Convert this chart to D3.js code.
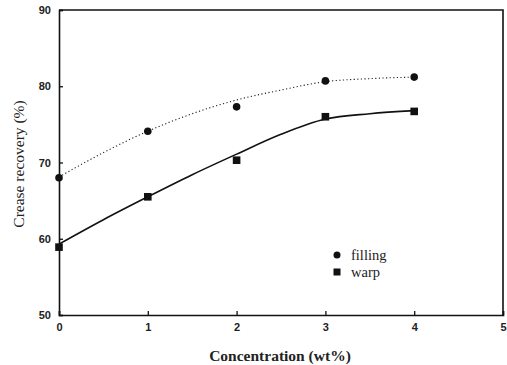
<!DOCTYPE html>
<html>
<head>
<meta charset="utf-8">
<script src="https://cdn.jsdelivr.net/npm/d3@7"></script>
<style>
  body { margin: 0; background: #fff; }
  svg { display: block; }
</style>
</head>
<body>
<svg id="chart" width="507" height="365"></svg>
<script>
// measured points
let concentration = [0, 1, 2, 3, 4]
let filling = [68.0, 74.1, 77.3, 80.7, 81.2]
let warp = [58.9, 65.5, 70.3, 76.0, 76.7]

// fitted curves
let fit_x = [0, 0.5, 1, 1.5, 2, 2.5, 3, 3.5, 4]
let filling_fit = [68.1, 71.3, 74.1, 76.4, 78.2, 79.5, 80.6, 81.0, 81.2]
let warp_fit = [59.3, 62.5, 65.5, 68.4, 71.1, 73.7, 75.7, 76.4, 76.8]

let x_ticks = [0, 1, 2, 3, 4, 5]
let y_ticks = [50, 60, 70, 80, 90]

let margin = {top: 10, right: 4, bottom: 50, left: 59}
let width = 507, height = 365

let scales = {
  x: d3.scaleLinear().domain([0, 5]).range([margin.left, width - margin.right]),
  y: d3.scaleLinear().domain([50, 90]).range([height - margin.bottom, margin.top])
}

let svg = d3.select("#chart")
let serif = "Liberation Serif, Times New Roman, serif"

function draw_axes() {
  let x_axis = d3.axisBottom(scales.x).tickValues(x_ticks)
    .tickFormat(d3.format("d")).tickSize(-4).tickPadding(8)
  let gx = svg.append("g")
    .attr("transform", `translate(0, ${scales.y(50)})`)
    .call(x_axis)

  let y_axis = d3.axisLeft(scales.y).tickValues(y_ticks)
    .tickFormat(d3.format("d")).tickSize(-4).tickPadding(8)
  let gy = svg.append("g")
    .attr("transform", `translate(${scales.x(0)}, 0)`)
    .call(y_axis)

  ;[gx, gy].forEach(g => {
    g.select(".domain").attr("stroke", "#111").attr("stroke-width", 1.6)
    g.selectAll(".tick line").attr("stroke", "#111").attr("stroke-width", 1.3)
    g.selectAll(".tick text")
      .attr("font-family", "Liberation Sans, Arial, sans-serif")
      .attr("font-size", 11)
      .attr("font-weight", "bold")
      .attr("fill", "#222")
  })

  // frame top and right
  svg.append("path")
    .attr("d", `M${scales.x(0)},${scales.y(90)}H${scales.x(5)}V${scales.y(50)}`)
    .attr("fill", "none")
    .attr("stroke", "#111")
    .attr("stroke-width", 1.6)

  svg.append("text")
    .attr("x", 280).attr("y", 361)
    .attr("text-anchor", "middle")
    .attr("font-family", serif)
    .attr("font-size", 15.5)
    .attr("font-weight", "bold")
    .attr("fill", "#222")
    .text("Concentration (wt%)")

  svg.append("text")
    .attr("transform", "translate(24, 164) rotate(-90)")
    .attr("text-anchor", "middle")
    .attr("font-family", serif)
    .attr("font-size", 15.5)
    .attr("fill", "#222")
    .text("Crease recovery  (%)")
}

function draw_series() {
  let line = ys => d3.line()
    .x((d, i) => scales.x(fit_x[i]))
    .y(d => scales.y(d))
    .curve(d3.curveMonotoneX)(ys)

  svg.append("path")
    .attr("d", line(filling_fit))
    .attr("fill", "none")
    .attr("stroke", "#222")
    .attr("stroke-width", 1.1)
    .attr("stroke-dasharray", "1.2,2.4")

  svg.append("path")
    .attr("d", line(warp_fit))
    .attr("fill", "none")
    .attr("stroke", "#111")
    .attr("stroke-width", 1.6)

  svg.append("g").selectAll("circle")
    .data(filling).enter()
    .append("circle")
    .attr("cx", (d, i) => scales.x(concentration[i]))
    .attr("cy", d => scales.y(d))
    .attr("r", 3.8)
    .attr("fill", "#111")

  svg.append("g").selectAll("rect")
    .data(warp).enter()
    .append("rect")
    .attr("x", (d, i) => scales.x(concentration[i]) - 3.8)
    .attr("y", d => scales.y(d) - 3.8)
    .attr("width", 7.6)
    .attr("height", 7.6)
    .attr("fill", "#111")
}

function draw_legend() {
  let g = svg.append("g").attr("transform", "translate(337, 255)")
  g.append("circle").attr("cx", 0).attr("cy", 0).attr("r", 3.5).attr("fill", "#111")
  g.append("rect").attr("x", -3.5).attr("y", 13.5).attr("width", 7).attr("height", 7).attr("fill", "#111")
  g.append("text").attr("x", 14).attr("y", 5).attr("font-family", serif)
    .attr("font-size", 14.5).attr("fill", "#222").text("filling")
  g.append("text").attr("x", 14).attr("y", 22).attr("font-family", serif)
    .attr("font-size", 14.5).attr("fill", "#222").text("warp")
}

draw_axes()
draw_series()
draw_legend()
</script>
</body>
</html>
